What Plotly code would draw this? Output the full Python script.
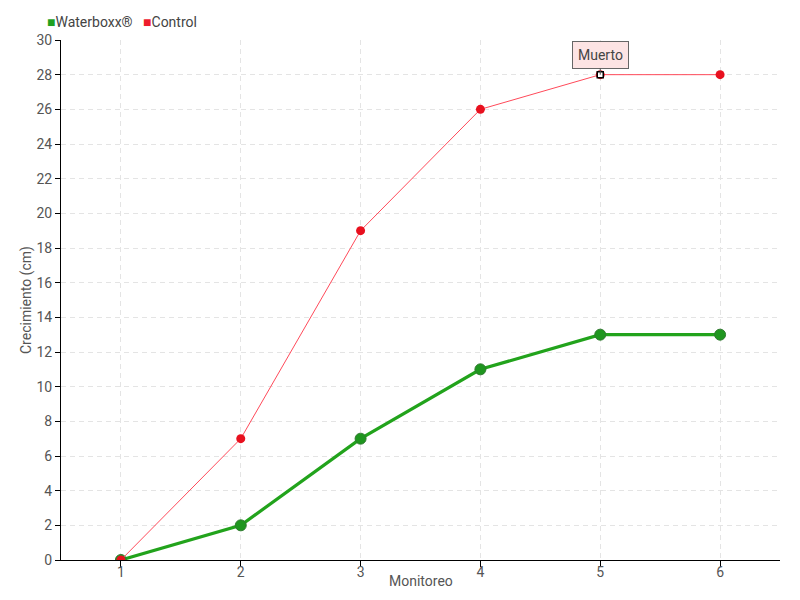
import plotly.graph_objects as go

monitoreo = [1, 2, 3, 4, 5, 6]
waterboxx = [0, 2, 7, 11, 13, 13]
control = [0, 7, 19, 26, 28, 28]
y_ticks = list(range(0, 31, 2))

FONT = "Roboto, sans-serif"
GREEN = "#1fa01f"
RED = "#ee1c2c"

fig = go.Figure()

fig.add_trace(go.Scatter(
    x=monitoreo, y=waterboxx, name="Waterboxx®", mode="lines+markers",
    line=dict(color="#22a31c", width=3.2),
    marker=dict(size=11, color="#1f961f", line=dict(color="#2f7a2f", width=1)),
))
fig.add_trace(go.Scatter(
    x=monitoreo, y=control, name="Control", mode="lines+markers",
    line=dict(color="#ff4a5a", width=1),
    marker=dict(size=9, color="#e8101e", line=dict(width=0)),
))
# highlighted point (hover state in original)
fig.add_trace(go.Scatter(
    x=[monitoreo[4]], y=[control[4]], mode="markers",
    marker=dict(symbol="square", size=6, color="white", line=dict(color="black", width=1.5)),
))

# legend drawn as text: small coloured square + name
legend_text = (
    f'<span style="color:{GREEN}">■</span>Waterboxx®   '
    f'<span style="color:{RED}">■</span>Control'
)
fig.add_annotation(
    xref="paper", yref="paper", x=-0.022, y=1.0 + 18 / 520,
    xanchor="left", yanchor="middle", showarrow=False,
    text=legend_text, font=dict(family=FONT, size=14, color="#444"),
)

# axis titles placed as annotations to sit close to the tick labels
fig.add_annotation(
    xref="paper", yref="paper", x=-35 / 719, y=0.5,
    xanchor="center", yanchor="middle", showarrow=False, textangle=-90,
    text="Crecimiento (cm)", font=dict(family=FONT, size=14, color="#555"),
)
fig.add_annotation(
    xref="paper", yref="paper", x=0.5, y=-21 / 520,
    xanchor="center", yanchor="middle", showarrow=False,
    text="Monitoreo", font=dict(family=FONT, size=14, color="#555"),
)

fig.add_annotation(
    x=monitoreo[4], y=control[4], text="Muerto", showarrow=True,
    arrowhead=0, arrowwidth=1, arrowcolor="#555", ax=0, ay=-20,
    bgcolor="#fde4e4", bordercolor="#666", borderwidth=1, borderpad=5,
    font=dict(family=FONT, size=14, color="#444"),
)

# page body has an 8px margin, so margins are shifted to keep the plot in place
fig.update_layout(
    width=800, height=600, showlegend=False,
    paper_bgcolor="white", plot_bgcolor="white",
    margin=dict(l=53, r=28, t=32, b=48, autoexpand=False),
    font=dict(family=FONT, size=14, color="#555"),
    xaxis=dict(
        range=[0.5, 6.5], tickvals=monitoreo, automargin=False,
        showgrid=True, gridcolor="#e4e4e4", griddash="5px,4px", gridwidth=1,
        showline=True, linecolor="black", linewidth=1,
        ticks="outside", ticklen=6, tickcolor="black",
        ticklabelstandoff=-7,
        zeroline=False,
    ),
    yaxis=dict(
        range=[0, 30], tickvals=y_ticks, automargin=False,
        showgrid=True, gridcolor="#e4e4e4", griddash="5px,4px", gridwidth=1,
        showline=True, linecolor="black", linewidth=1,
        ticks="outside", ticklen=5, tickcolor="black",
        zeroline=False,
    ),
)

fig.write_html("out.html")
